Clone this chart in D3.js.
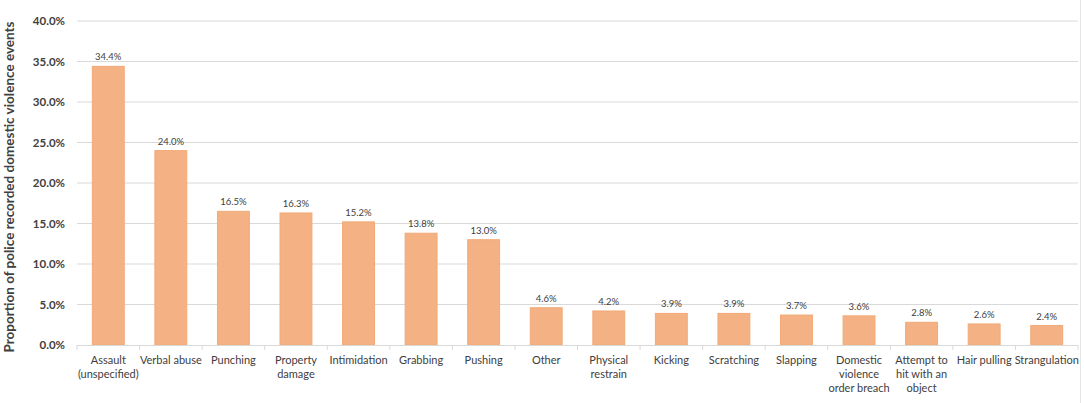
<!DOCTYPE html>
<html>
<head>
<meta charset="utf-8">
<script src="https://cdn.jsdelivr.net/npm/d3@7"></script>
<style>
  body { margin: 0; background: #fff; }
  svg text { font-family: Lato, "Liberation Sans", sans-serif; fill: #404040; }
</style>
</head>
<body>
<div id="chart"></div>
<script>
const categories = [
  ["Assault", "(unspecified)"], ["Verbal abuse"], ["Punching"], ["Property", "damage"],
  ["Intimidation"], ["Grabbing"], ["Pushing"], ["Other"], ["Physical", "restrain"],
  ["Kicking"], ["Scratching"], ["Slapping"], ["Domestic", "violence", "order breach"],
  ["Attempt to", "hit with an", "object"], ["Hair pulling"], ["Strangulation"]
];
const values = [34.4, 24.0, 16.5, 16.3, 15.2, 13.8, 13.0, 4.6, 4.2, 3.9, 3.9, 3.7, 3.6, 2.8, 2.6, 2.4];
const yTicks = [0, 5, 10, 15, 20, 25, 30, 35, 40];
const yTitle = "Proportion of police recorded domestic violence events";

const W = 1084, H = 403;
const margin = { top: 21, right: 6, bottom: 58, left: 77 };

const svg = d3.select("#chart").append("svg")
  .attr("width", W)
  .attr("height", H);

const x = d3.scaleBand()
  .domain(d3.range(categories.length))
  .range([margin.left, W - margin.right])
  .paddingInner(0.49)
  .paddingOuter(0.245);

const y = d3.scaleLinear()
  .domain([0, 40])
  .range([H - margin.bottom, margin.top]);

// gridlines
svg.append("g")
  .selectAll("line")
  .data(yTicks.filter(d => d > 0))
  .join("line")
  .attr("x1", margin.left)
  .attr("x2", W - margin.right)
  .attr("y1", d => y(d))
  .attr("y2", d => y(d))
  .attr("stroke", "#d9d9d9")
  .attr("stroke-width", 1);

// right border
svg.append("line")
  .attr("x1", 1080.5).attr("x2", 1080.5)
  .attr("y1", 0).attr("y2", H)
  .attr("stroke", "#e4e4e4");

// y axis labels
svg.append("g")
  .selectAll("text")
  .data(yTicks)
  .join("text")
  .attr("x", margin.left - 12)
  .attr("y", d => y(d))
  .attr("dy", "0.35em")
  .attr("text-anchor", "end")
  .attr("font-size", 11.5)
  .attr("font-weight", "bold")
  .text(d => d.toFixed(1) + "%");

// y title
svg.append("text")
  .attr("transform", `translate(14,${(y(0) + y(40)) / 2 + 4}) rotate(-90)`)
  .attr("text-anchor", "middle")
  .attr("font-size", 13.5)
  .attr("font-weight", "bold")
  .attr("fill", "#222")
  .text(yTitle);

// bars
svg.append("g")
  .selectAll("rect")
  .data(values)
  .join("rect")
  .attr("x", (d, i) => x(i))
  .attr("y", d => y(d))
  .attr("width", x.bandwidth())
  .attr("height", d => y(0) - y(d))
  .attr("fill", "#F4B183")
  .attr("stroke", "#F2AA78")
  .attr("stroke-width", 1);

// value labels
svg.append("g")
  .selectAll("text")
  .data(values)
  .join("text")
  .attr("x", (d, i) => x(i) + x.bandwidth() / 2)
  .attr("y", d => y(d) - 6)
  .attr("text-anchor", "middle")
  .attr("font-size", 9.5)
  .text(d => d.toFixed(1) + "%");

// x axis line and ticks
const x0 = margin.left, x1 = W - margin.right;
svg.append("line")
  .attr("x1", x0).attr("x2", x1)
  .attr("y1", y(0) + 0.5).attr("y2", y(0) + 0.5)
  .attr("stroke", "#d9d9d9");

svg.append("g")
  .selectAll("line")
  .data(d3.range(categories.length + 1))
  .join("line")
  .attr("x1", i => x0 + i * (x1 - x0) / categories.length)
  .attr("x2", i => x0 + i * (x1 - x0) / categories.length)
  .attr("y1", y(0))
  .attr("y2", y(0) + 5)
  .attr("stroke", "#d9d9d9");

// category labels
const catG = svg.append("g")
  .selectAll("text")
  .data(categories)
  .join("text")
  .attr("x", (d, i) => x(i) + x.bandwidth() / 2)
  .attr("y", y(0) + 19)
  .attr("text-anchor", "middle")
  .attr("font-size", 11)
  .attr("fill", "#222");

catG.selectAll("tspan")
  .data(d => d)
  .join("tspan")
  .attr("x", function () { return this.parentNode.getAttribute("x"); })
  .attr("dy", (d, i) => i === 0 ? 0 : 14)
  .text(d => d);
</script>
</body>
</html>
